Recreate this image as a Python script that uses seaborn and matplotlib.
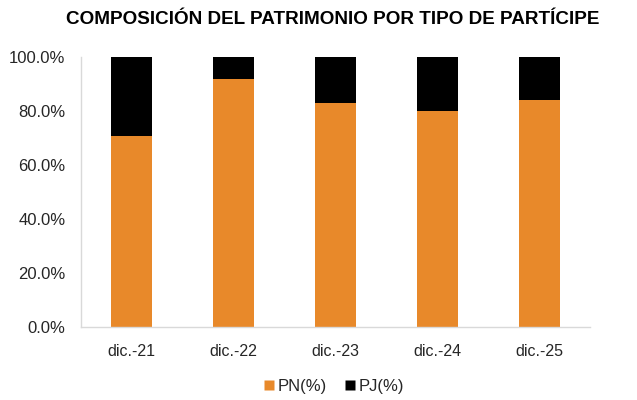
import matplotlib
matplotlib.use("Agg")
import matplotlib.pyplot as plt
import seaborn as sns
import pandas as pd
import numpy as np
from matplotlib.lines import Line2D
from matplotlib.ticker import PercentFormatter, FixedLocator

categories = ["dic.-21", "dic.-22", "dic.-23", "dic.-24", "dic.-25"]
pn = [70.9, 92.1, 83.2, 80.0, 84.0]
pj = [29.1, 7.9, 16.8, 20.0, 16.0]

sns.set_theme(style="white")
plt.rcParams['font.family'] = ['Liberation Sans', 'DejaVu Sans']

df = pd.DataFrame({"cat": categories, "PN": pn, "PJ": pj})
df["total"] = df["PN"] + df["PJ"]

fig = plt.figure(figsize=(6.37, 4.0), dpi=100)
ax = fig.add_axes([0.127, 0.182, 0.8, 0.675])

orange = "#E8892A"
sns.barplot(data=df, x="cat", y="total", color="black", width=0.4, ax=ax,
            saturation=1, edgecolor="none")
sns.barplot(data=df, x="cat", y="PN", color=orange, width=0.4, ax=ax,
            saturation=1, edgecolor="none")

ax.set_xlim(-0.5, len(categories) - 0.5)
ax.set_ylim(0, 100)
ax.set_yticks(np.arange(0, 101, 20))
ax.yaxis.set_major_formatter(PercentFormatter(decimals=1))
ax.set_xlabel("")
ax.set_ylabel("")

for s in ["top", "right"]:
    ax.spines[s].set_visible(False)
for s in ["left", "bottom"]:
    ax.spines[s].set_color("#D9D9D9")
    ax.spines[s].set_linewidth(1.0)

ax.tick_params(axis="x", which="major", length=0, pad=12, labelsize=11.5, colors="#262626")
ax.tick_params(axis="y", which="major", length=0, pad=11, labelsize=12, colors="#262626")
ax.xaxis.set_minor_locator(FixedLocator(np.arange(-0.5, len(categories), 1.0)))
ax.tick_params(axis="x", which="minor", length=5, width=1.0, color="#D9D9D9", direction="out")

fig.text(0.523, 0.952, "COMPOSICIÓN DEL PATRIMONIO POR TIPO DE PARTÍCIPE",
         ha="center", va="center", fontsize=13.6, fontweight="bold", color="black")

handles = [Line2D([0], [0], marker="s", color="none", markerfacecolor=orange,
                  markeredgecolor="none", markersize=7, label="PN(%)"),
           Line2D([0], [0], marker="s", color="none", markerfacecolor="black",
                  markeredgecolor="none", markersize=7, label="PJ(%)")]
fig.legend(handles=handles, loc="center", bbox_to_anchor=(0.522, 0.035), ncol=2,
           frameon=False, fontsize=12, handletextpad=0.0, columnspacing=0.9,
           handlelength=1.0)

fig.savefig("out.png", dpi=100)
